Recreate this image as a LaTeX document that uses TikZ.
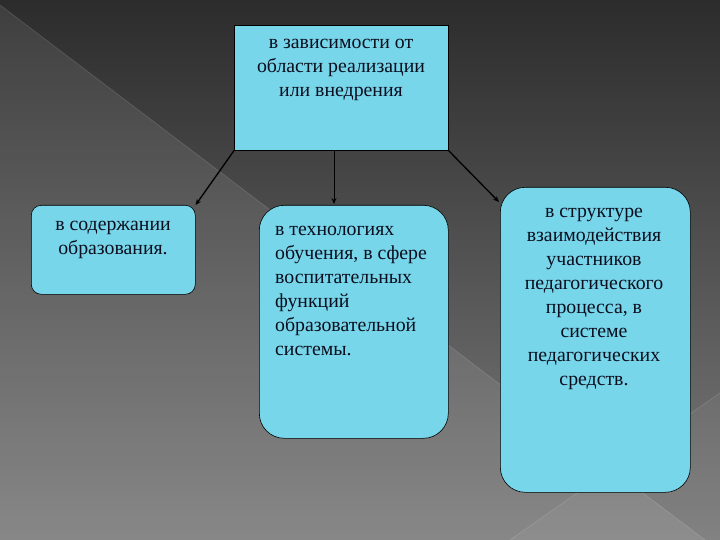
\documentclass[tikz,border=0pt]{standalone}
\usepackage{fontspec}
\setmainfont{Liberation Serif}
\usetikzlibrary{arrows.meta}
\definecolor{boxfill}{RGB}{120,214,234}
\definecolor{bgtop}{RGB}{44,44,44}
\definecolor{bgbot}{RGB}{124,124,124}
\definecolor{txtcol}{RGB}{10,14,30}
\tikzset{
  box/.style={draw=black, line width=0.6pt, fill=boxfill, inner sep=0pt},
  rbox/.style={box, rounded corners=#1},
  txt/.style={font=\fontsize{19.8}{24}\selectfont, inner sep=0pt, anchor=north, text=txtcol},
  conn/.style={-{Stealth[length=6pt,width=5pt]}, line width=1.3pt, black},
}
\begin{document}
\begin{tikzpicture}[x=1pt,y=-1pt]
\useasboundingbox (0,0) rectangle (720,540);
% background
\shade[top color=bgtop, bottom color=bgbot] (0,0) rectangle (720,540);
\fill[white, opacity=0.09] (0,5) -- (705,540) -- (0,540) -- cycle;
\fill[white, opacity=0.05] (720,393) -- (510,540) -- (720,540) -- cycle;
\draw[white, opacity=0.12, line width=0.8pt] (0,5) -- (705,540);
\draw[white, opacity=0.12, line width=0.8pt] (720,393) -- (510,540);
% boxes
\node[box, minimum width=214, minimum height=125, anchor=north west] (top) at (234,25) {};
\node[rbox=10pt, minimum width=164, minimum height=89, anchor=north west] (left) at (31,205) {};
\node[rbox=25pt, minimum width=189, minimum height=233, anchor=north west] (mid) at (259,205) {};
\node[rbox=25pt, minimum width=190, minimum height=305, anchor=north west] (right) at (500,187) {};
% texts
\node[txt, align=center] (ttop) at (341,39) {в зависимости от\\области реализации\\или внедрения};
\node[txt, align=center] (tleft) at (113,221) {в содержании\\образования.};
\node[txt, align=left, anchor=north west] (tmid) at (275,226) {в технологиях\\обучения, в сфере\\воспитательных\\функций\\образовательной\\системы.};
\node[txt, align=center] (tright) at (594,208) {в структуре\\взаимодействия\\участников\\педагогического\\процесса, в\\системе\\педагогических\\средств.};
% connectors
\draw[conn] (top.south west) -- (left.north east);
\draw[conn, line width=0.8pt] (top.south -| 334,0) -- (334,204);
\draw[conn] (top.south east) -- ([xshift=-1pt,yshift=-15pt]right.north west);
\end{tikzpicture}
\end{document}
